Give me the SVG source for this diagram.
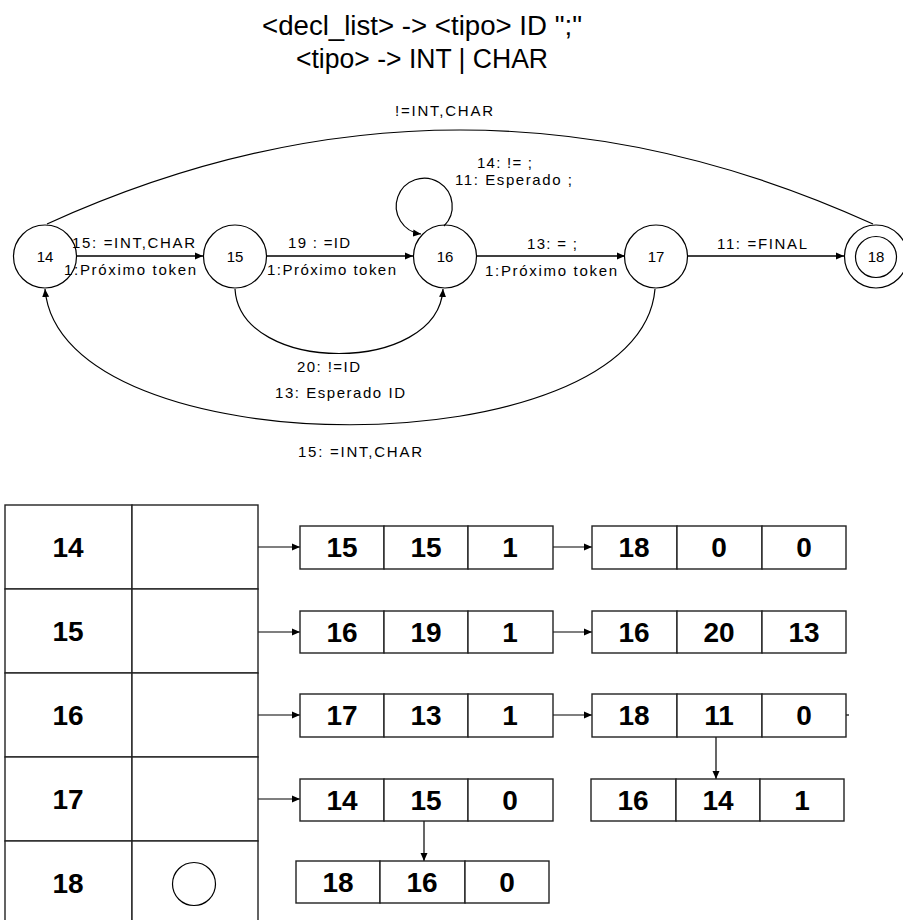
<svg xmlns="http://www.w3.org/2000/svg" width="903" height="920" viewBox="0 0 903 920">
<defs>
<style>
.bg{fill:#fff}
.st{fill:none;stroke:#000;stroke-width:1.2}
.ln{fill:none;stroke:#000;stroke-width:1.5}
.cell{fill:#fff;stroke:#222;stroke-width:1.4}
.title{font-family:"Liberation Sans",Arial,sans-serif;font-size:27px;fill:#000}
.lbl{font-family:"Liberation Sans",Arial,sans-serif;font-size:15px;fill:#000}
.nd{font-family:"Liberation Sans",Arial,sans-serif;font-size:15px;fill:#000;text-anchor:middle}
.num{font-family:"Liberation Sans",Arial,sans-serif;font-size:28px;font-weight:bold;fill:#000;text-anchor:middle}
</style>
<marker id="ah" markerUnits="userSpaceOnUse" markerWidth="9" markerHeight="8" refX="8" refY="4" orient="auto">
<path d="M0,0.5 L8,4 L0,7.5 z" fill="#000"/>
</marker>
</defs>
<rect class="bg" x="0" y="0" width="903" height="920"/>

<g id="title">
<text class="title" x="262" y="35" textLength="320" lengthAdjust="spacingAndGlyphs">&lt;decl_list&gt; -&gt; &lt;tipo&gt; ID ";"</text>
<text class="title" x="296" y="68" textLength="252" lengthAdjust="spacingAndGlyphs">&lt;tipo&gt; -&gt; INT | CHAR</text>
</g>

<g id="connectors">
<path class="st" d="M47,224 Q460,36 873,224"/>
<line class="ln" x1="77" y1="256" x2="203" y2="256" marker-end="url(#ah)"/>
<line class="ln" x1="267" y1="256" x2="413" y2="256" marker-end="url(#ah)"/>
<line class="ln" x1="477" y1="256" x2="625" y2="256" marker-end="url(#ah)"/>
<line class="ln" x1="688" y1="256" x2="844" y2="256" marker-end="url(#ah)"/>
<path class="st" d="M444,226 A28,28 0 1 0 421,234" marker-end="url(#ah)"/>
<path class="st" d="M235,289 C240,375 438,375 443,289" marker-end="url(#ah)"/>
<path class="st" d="M655,289 C640,470 60,470 45,289" marker-end="url(#ah)"/>
<g id="edge-labels">
<text class="lbl" x="395" y="116" textLength="98">!=INT,CHAR</text>
<text class="lbl" x="72" y="248" textLength="123">15: =INT,CHAR</text>
<text class="lbl" x="64" y="275" textLength="132">1:Próximo token</text>
<text class="lbl" x="288" y="248" textLength="62">19 : =ID</text>
<text class="lbl" x="267" y="275" textLength="129">1:Próximo token</text>
<text class="lbl" x="527" y="249" textLength="50">13: = ;</text>
<text class="lbl" x="485" y="276" textLength="132">1:Próximo token</text>
<text class="lbl" x="717" y="249" textLength="90">11: =FINAL</text>
<text class="lbl" x="477" y="168" textLength="55">14: != ;</text>
<text class="lbl" x="455" y="185" textLength="117">11: Esperado ;</text>
<text class="lbl" x="297" y="372" textLength="63">20: !=ID</text>
<text class="lbl" x="275" y="398" textLength="130">13: Esperado ID</text>
<text class="lbl" x="298" y="457" textLength="124">15: =INT,CHAR</text>
</g>
<!-- table connectors -->
<line class="st" x1="258" y1="547" x2="300" y2="547" marker-end="url(#ah)"/>
<line class="st" x1="258" y1="632" x2="300" y2="632" marker-end="url(#ah)"/>
<line class="st" x1="258" y1="715" x2="300" y2="715" marker-end="url(#ah)"/>
<line class="st" x1="258" y1="799" x2="300" y2="799" marker-end="url(#ah)"/>
<line class="st" x1="553" y1="547" x2="592" y2="547" marker-end="url(#ah)"/>
<line class="st" x1="553" y1="632" x2="592" y2="632" marker-end="url(#ah)"/>
<line class="st" x1="553" y1="715" x2="592" y2="715" marker-end="url(#ah)"/>
<line class="st" x1="716" y1="737" x2="716" y2="779" marker-end="url(#ah)"/>
<line class="st" x1="424" y1="821" x2="424" y2="861" marker-end="url(#ah)"/>
<line class="st" x1="846" y1="715" x2="849" y2="715"/>
</g>

<g id="n14"><circle class="st" cx="45" cy="256.5" r="31.5"/><text class="nd" x="45" y="262">14</text></g>
<g id="n15"><circle class="st" cx="235" cy="256.5" r="31.5"/><text class="nd" x="235" y="262">15</text></g>
<g id="n16"><circle class="st" cx="445" cy="256.5" r="31.5"/><text class="nd" x="445" y="262">16</text></g>
<g id="n17"><circle class="st" cx="656" cy="256.5" r="31.5"/><text class="nd" x="656" y="262">17</text></g>
<g id="n18"><circle class="st" cx="876" cy="256.5" r="31.5"/><circle class="st" cx="876" cy="257" r="20.5"/><text class="nd" x="876" y="262">18</text></g>

<g id="table">
<rect class="cell" x="5" y="505" width="127" height="84"/><rect class="cell" x="132" y="505" width="126" height="84"/>
<rect class="cell" x="5" y="589" width="127" height="84"/><rect class="cell" x="132" y="589" width="126" height="84"/>
<rect class="cell" x="5" y="673" width="127" height="84"/><rect class="cell" x="132" y="673" width="126" height="84"/>
<rect class="cell" x="5" y="757" width="127" height="84"/><rect class="cell" x="132" y="757" width="126" height="84"/>
<rect class="cell" x="5" y="841" width="127" height="90"/><rect class="cell" x="132" y="841" width="126" height="90"/>
<text class="num" x="68" y="557">14</text>
<text class="num" x="68" y="641">15</text>
<text class="num" x="68" y="725">16</text>
<text class="num" x="68" y="809">17</text>
<text class="num" x="68" y="893">18</text>
<circle class="st" cx="194" cy="884" r="21.5"/>
</g>

<g id="l14a"><rect class="cell" x="300" y="526" width="84" height="43"/><rect class="cell" x="384" y="526" width="84" height="43"/><rect class="cell" x="468" y="526" width="85" height="43"/>
<text class="num" x="342" y="557">15</text><text class="num" x="426" y="557">15</text><text class="num" x="510" y="557">1</text></g>
<g id="l14b"><rect class="cell" x="592" y="526" width="85" height="43"/><rect class="cell" x="677" y="526" width="85" height="43"/><rect class="cell" x="762" y="526" width="84" height="43"/>
<text class="num" x="634" y="557">18</text><text class="num" x="719" y="557">0</text><text class="num" x="804" y="557">0</text></g>

<g id="l15a"><rect class="cell" x="300" y="611" width="84" height="42"/><rect class="cell" x="384" y="611" width="84" height="42"/><rect class="cell" x="468" y="611" width="85" height="42"/>
<text class="num" x="342" y="642">16</text><text class="num" x="426" y="642">19</text><text class="num" x="510" y="642">1</text></g>
<g id="l15b"><rect class="cell" x="592" y="611" width="85" height="42"/><rect class="cell" x="677" y="611" width="85" height="42"/><rect class="cell" x="762" y="611" width="84" height="42"/>
<text class="num" x="634" y="642">16</text><text class="num" x="719" y="642">20</text><text class="num" x="804" y="642">13</text></g>

<g id="l16a"><rect class="cell" x="300" y="694" width="84" height="43"/><rect class="cell" x="384" y="694" width="84" height="43"/><rect class="cell" x="468" y="694" width="85" height="43"/>
<text class="num" x="342" y="725">17</text><text class="num" x="426" y="725">13</text><text class="num" x="510" y="725">1</text></g>
<g id="l16b"><rect class="cell" x="592" y="694" width="85" height="43"/><rect class="cell" x="677" y="694" width="85" height="43"/><rect class="cell" x="762" y="694" width="84" height="43"/>
<text class="num" x="634" y="725">18</text><text class="num" x="719" y="725">11</text><text class="num" x="804" y="725">0</text></g>
<g id="l16c"><rect class="cell" x="591" y="779" width="85" height="42"/><rect class="cell" x="676" y="779" width="84" height="42"/><rect class="cell" x="760" y="779" width="84" height="42"/>
<text class="num" x="633" y="810">16</text><text class="num" x="718" y="810">14</text><text class="num" x="802" y="810">1</text></g>

<g id="l17a"><rect class="cell" x="300" y="779" width="84" height="42"/><rect class="cell" x="384" y="779" width="84" height="42"/><rect class="cell" x="468" y="779" width="85" height="42"/>
<text class="num" x="342" y="810">14</text><text class="num" x="426" y="810">15</text><text class="num" x="510" y="810">0</text></g>
<g id="l17b"><rect class="cell" x="296" y="861" width="84" height="42"/><rect class="cell" x="380" y="861" width="85" height="42"/><rect class="cell" x="465" y="861" width="84" height="42"/>
<text class="num" x="338" y="892">18</text><text class="num" x="422" y="892">16</text><text class="num" x="507" y="892">0</text></g>
</svg>
